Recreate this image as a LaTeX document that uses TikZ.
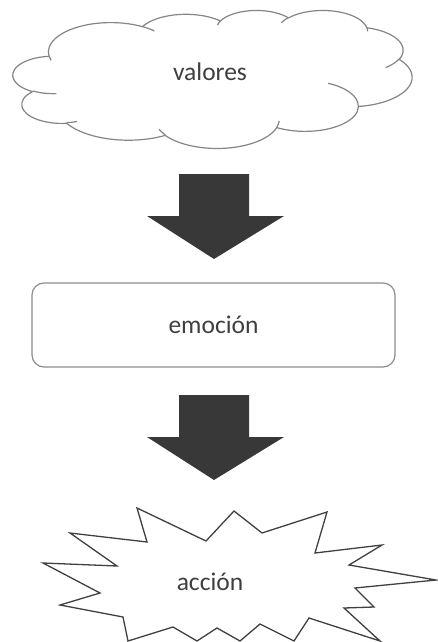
\documentclass[tikz,border=0pt]{standalone}
\usepackage{fontspec}
\setmainfont{Carlito}
\usepackage{tikz}
\definecolor{cloudGray}{HTML}{858585}
\definecolor{boxGray}{HTML}{8C8C8C}
\definecolor{starGray}{HTML}{404040}
\definecolor{arrowDark}{HTML}{383838}
\definecolor{textDark}{HTML}{3F3F3F}

% one puff of the cloud outline: x radius, y radius, start and sweep (ray angles)
\newcommand\cloudarc[4]{%
  \pgfextra{%
    \pgfmathsetmacro\cats{atan2(#1*sin(#3),#2*cos(#3))}%
    \pgfmathsetmacro\cate{atan2(#1*sin(#3+#4),#2*cos(#3+#4))}%
    \pgfmathsetmacro\cadt{mod(\cate-\cats+720,360)}%
  }
  arc[start angle=\cats, delta angle=\cadt, x radius=#1, y radius=#2]%
}

\tikzset{
  cloudline/.style={draw=cloudGray, line width=1.2pt, line join=round},
  textlabel/.style={font=\fontsize{25.5}{30}\selectfont, text=textDark},
  blockarrow/.style={fill=arrowDark, draw=none}
}

\begin{document}
\begin{tikzpicture}[x=1pt, y=-1pt]
      \useasboundingbox (0,0) rectangle (437,642);

      % Cloud
      \begin{scope}[shift={(13,10)}, x=0.9236pt, y=-0.3194pt]
            \draw[cloudline, fill=white] (39.00,143.70)
                  \cloudarc{67.53}{91.90}{-190.4875}{123.7805}
                  \cloudarc{53.33}{72.67}{-144.1024}{89.9452}
                  \cloudarc{43.65}{59.45}{-145.8079}{99.7230}
                  \cloudarc{48.57}{65.95}{-130.9861}{117.2417}
                  \cloudarc{53.33}{72.73}{-78.7089}{109.0269}
                  \cloudarc{67.75}{92.20}{-46.2673}{130.2690}
                  \cloudarc{57.85}{78.67}{0.6250}{114.0333}
                  \cloudarc{67.52}{92.15}{22.4516}{115.1726}
                  \cloudarc{77.20}{105.43}{66.2426}{75.7110}
                  \cloudarc{43.60}{59.18}{-274.9421}{146.7356}
                  \cloudarc{43.45}{59.45}{-246.8285}{152.5189}
                  -- cycle;
            \draw[cloudline]
                  (46.93,261.77) \cloudarc{43.45}{59.45}{86.7420}{26.4295}
                  (69.28,348.99) \cloudarc{43.60}{59.18}{73.6105}{11.4475}
                  (164.78,390.90) \cloudarc{67.52}{92.15}{137.6242}{14.0811}
                  (288.27,347.51) \cloudarc{67.52}{92.15}{6.4533}{15.9984}
                  (341.29,229.54) \cloudarc{57.85}{78.67}{-70.2924}{70.9174}
                  (417.98,153.54) \cloudarc{53.33}{72.73}{30.3180}{27.7515}
                  (383.24,54.26) \cloudarc{48.57}{65.95}{-13.7443}{14.8589}
                  (290.78,39.52) \cloudarc{48.57}{65.95}{-149.1815}{18.1954}
                  (221.41,47.20) \cloudarc{43.65}{59.45}{-163.4943}{17.6864}
                  (140.00,51.92) \cloudarc{67.53}{91.90}{-66.7070}{12.3194}
                  (41.27,157.89) \cloudarc{67.53}{91.90}{157.6544}{11.8582};
      \end{scope}
      \node[textlabel] (valores) at (210,72) {valores};

      % Block arrows
      \foreach \ytop in {174,395} {
            \fill[blockarrow] (179,\ytop) -- (249,\ytop) -- (249,\ytop+42) -- (284,\ytop+42)
                  -- (214,\ytop+85) -- (147,\ytop+42) -- (179,\ytop+42) -- cycle;
      }

      % Rounded box
      \node[textlabel, draw=boxGray, line width=1.2pt, rounded corners=12pt,
            minimum width=363pt, minimum height=84pt] (emocion) at (213.5,325) {emoción};

      % Starburst
      \draw[draw=starGray, line width=1.3pt, fill=white, line join=miter]
            (137,508) -- (147,542) -- (70,533) -- (117,566) -- (43,563) -- (100,593)
            -- (60,605) -- (123,617) -- (128,641) -- (173,627) -- (197,641) -- (217,628)
            -- (240,641) -- (260,624) -- (294,641) -- (309,618) -- (380,641) -- (344,608)
            -- (374,607) -- (355,588) -- (436,580) -- (349,565) -- (382,545) -- (315,553)
            -- (327,512) -- (262,533) -- (234,511) -- (206,541) -- cycle;
      \node[textlabel] (accion) at (210,582) {acción};
\end{tikzpicture}
\end{document}
